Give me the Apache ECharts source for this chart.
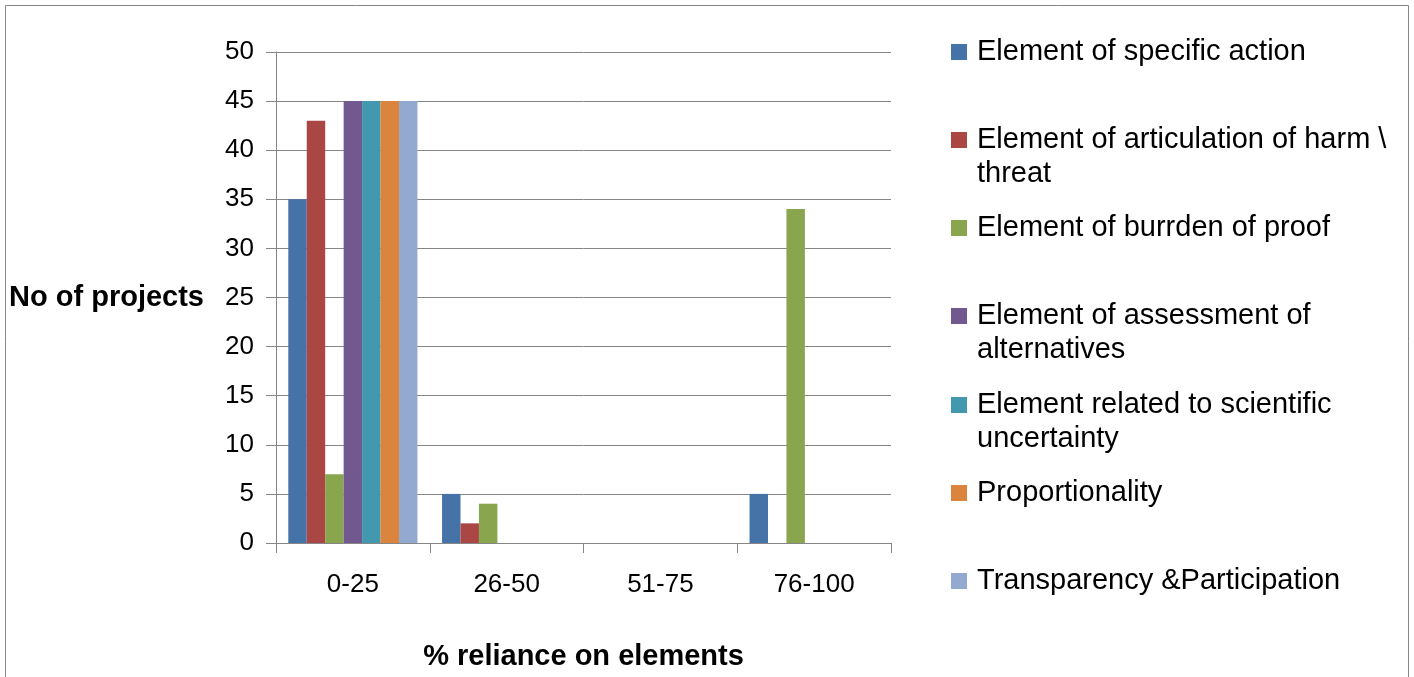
<!DOCTYPE html>
<html>
<head>
<meta charset="utf-8">
<script src="https://cdn.jsdelivr.net/npm/echarts@6/dist/echarts.min.js"></script>
<style>
html,body{margin:0;padding:0;background:#fff;}
#chart{width:1414px;height:677px;}
</style>
</head>
<body>
<div id="chart"></div>
<script>
const categories = ['0-25', '26-50', '51-75', '76-100'];
const seriesNames = [
  'Element of specific action',
  'Element of articulation of harm \\ threat',
  'Element of burrden of proof',
  'Element of assessment of alternatives',
  'Element related to scientific uncertainty',
  'Proportionality',
  'Transparency &Participation'
];
const legendLines = [
  ['Element of specific action'],
  ['Element of articulation of harm \\', 'threat'],
  ['Element of burrden of proof'],
  ['Element of assessment of', 'alternatives'],
  ['Element related to scientific', 'uncertainty'],
  ['Proportionality'],
  ['Transparency &Participation']
];
const specificAction = [35, 5, 0, 5];
const articulationHarm = [43, 2, 0, 0];
const burdenProof = [7, 4, 0, 34];
const assessmentAlternatives = [45, 0, 0, 0];
const scientificUncertainty = [45, 0, 0, 0];
const proportionality = [45, 0, 0, 0];
const transparency = [45, 0, 0, 0];
const seriesValues = [specificAction, articulationHarm, burdenProof, assessmentAlternatives, scientificUncertainty, proportionality, transparency];
const colors = ['#4572A7', '#AA4643', '#89A54E', '#71588F', '#4198AF', '#DB843D', '#93A9CF'];
const yTicks = {min: 0, max: 50, interval: 5};

const FONT = "'Liberation Sans', Arial, sans-serif";
const chart = echarts.init(document.getElementById('chart'));

const iconCenters = [52, 140, 228, 316, 405, 493, 581];
const legends = seriesNames.map((name, i) => {
  const lines = legendLines[i];
  const twoLine = lines.length > 1;
  const text = (twoLine ? '{t| }\n' : '') + lines.map(l => '{t|' + l + '}').join('\n');
  return {
    data: [name],
    orient: 'vertical',
    left: 951,
    top: iconCenters[i] - (twoLine ? 51 : 17),
    padding: 0,
    itemWidth: 16,
    itemHeight: 16,
    icon: 'rect',
    selectedMode: false,
    formatter: () => text,
    textStyle: {
      fontFamily: FONT,
      fontSize: 29,
      color: '#000',
      lineHeight: 34,
      rich: {
        t: {fontFamily: FONT, fontSize: 29, color: '#000', lineHeight: 34, padding: [0, 0, 0, 5]}
      }
    }
  };
});

chart.setOption({
  animation: false,
  color: colors,
  textStyle: {fontFamily: FONT},
  graphic: [{
    type: 'rect',
    shape: {x: 5.5, y: 5.5, width: 1403, height: 700},
    style: {fill: 'none', stroke: '#868686', lineWidth: 1},
    silent: true,
    z: -10
  }],
  legend: legends,
  grid: {left: 276, top: 52, width: 615, height: 491, containLabel: false},
  xAxis: {
    type: 'category',
    data: categories,
    name: '% reliance on elements',
    nameLocation: 'middle',
    nameGap: 99,
    nameTextStyle: {fontFamily: FONT, fontSize: 29, fontWeight: 'bold', color: '#000'},
    axisLine: {lineStyle: {color: '#868686', width: 1}},
    axisTick: {show: true, length: 10, lineStyle: {color: '#868686'}, alignWithLabel: false},
    axisLabel: {fontFamily: FONT, fontSize: 26, color: '#000', margin: 29},
    splitLine: {show: false}
  },
  yAxis: {
    type: 'value',
    min: yTicks.min,
    max: yTicks.max,
    interval: yTicks.interval,
    name: 'No of projects',
    nameLocation: 'middle',
    nameRotate: 0,
    nameGap: 72,
    nameTextStyle: {fontFamily: FONT, fontSize: 29, fontWeight: 'bold', color: '#000', align: 'right'},
    axisLine: {show: true, lineStyle: {color: '#868686', width: 1}},
    axisTick: {show: true, length: 10, lineStyle: {color: '#868686'}},
    axisLabel: {fontFamily: FONT, fontSize: 26, color: '#000', margin: 22},
    splitLine: {show: true, lineStyle: {color: '#868686', width: 1}}
  },
  series: seriesNames.map((name, i) => ({
    name: name,
    type: 'bar',
    data: seriesValues[i],
    barGap: '0%',
    barCategoryGap: '16%',
    itemStyle: {color: colors[i]}
  }))
});
</script>
</body>
</html>
